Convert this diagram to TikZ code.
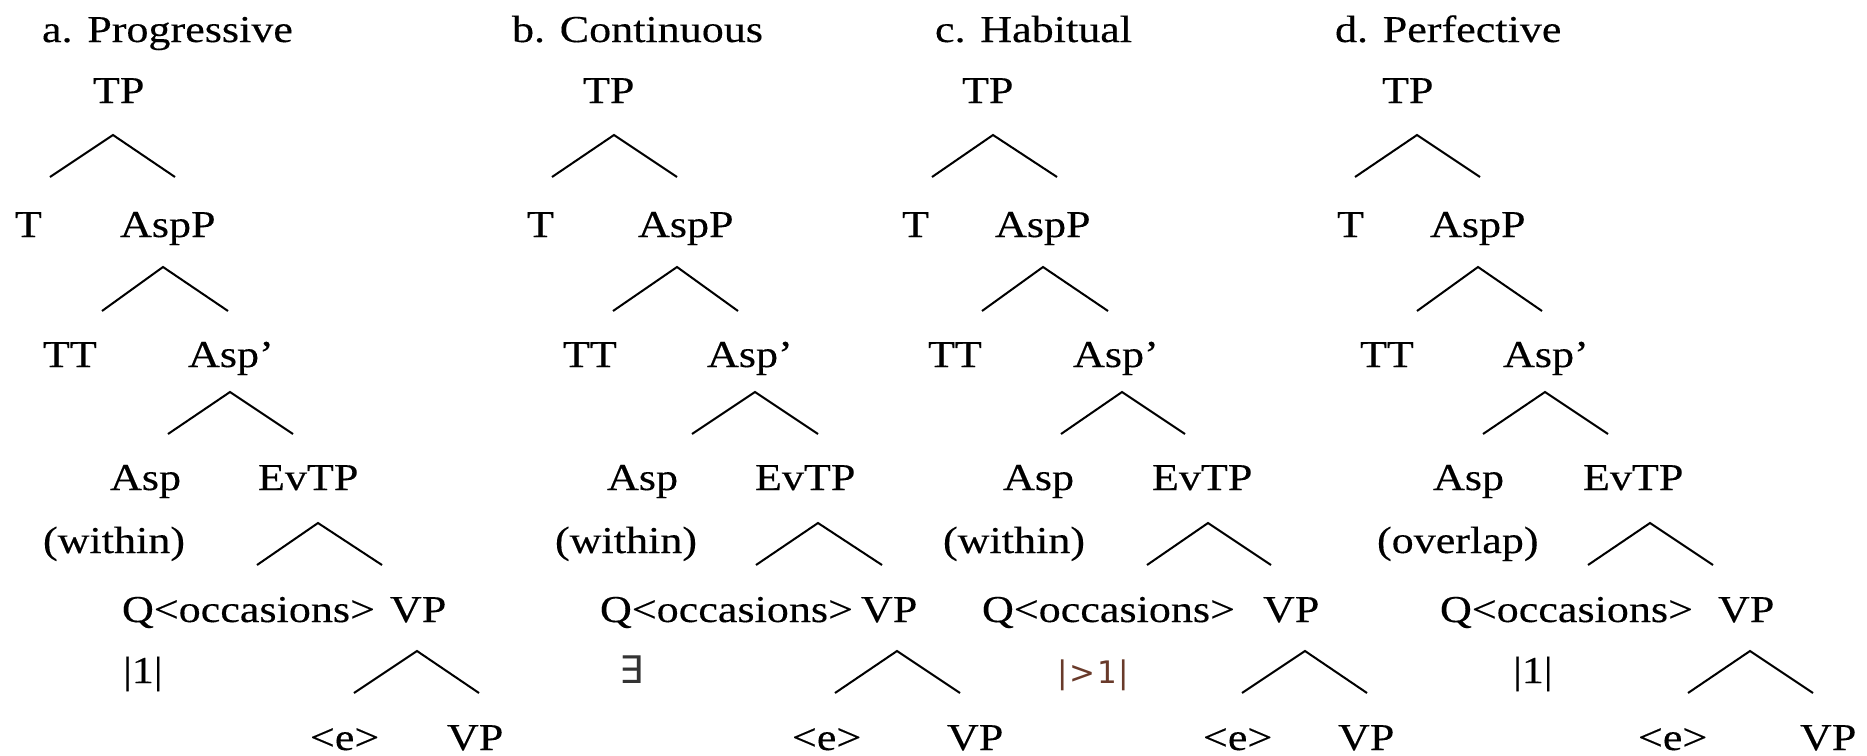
\documentclass[tikz,border=0pt]{standalone}
\usepackage{fontspec}
\setmainfont{Liberation Serif}[FakeStretch=1.16,FakeBold=0.3]
\newfontfamily\symfam{DejaVu Sans}
\definecolor{numbrown}{RGB}{105,58,42}
\newcommand{\branchpair}[6]{%
  \coordinate (#1) at (#2,#3);
  \coordinate (#1-l) at (#4,#6);
  \coordinate (#1-r) at (#5,#6);
  \draw[branch] (#1-l) -- (#1) -- (#1-r);}
\tikzset{
  lbl/.style={anchor=base west, inner sep=0pt, outer sep=0pt, font=\fontsize{38}{44}\selectfont, text=black},
  symlbl/.style={anchor=base west, inner sep=0pt, outer sep=0pt, font=\symfam\fontsize{38}{44}\selectfont, text=black!80},
  cntlbl/.style={anchor=base west, inner sep=0pt, outer sep=0pt, font=\symfam\fontsize{31}{36}\selectfont, text=numbrown},
  branch/.style={draw=black, line width=2pt, line join=miter}
}
\begin{document}
\begin{tikzpicture}[x=1pt,y=-1pt]
\fill[white] (0,0) rectangle (1867,755);
\useasboundingbox (0,0) rectangle (1867,755);

% ---------- a. Progressive ----------
\node[lbl] (a-title) at (42,42) {a. Progressive};
\node[lbl] (a-TP) at (93,103) {TP};
\node[lbl] (a-T) at (15,237) {T};
\node[lbl] (a-AspP) at (120,237) {AspP};
\node[lbl] (a-TT) at (43,367) {TT};
\node[lbl] (a-Aspbar) at (188,367) {Asp’};
\node[lbl] (a-Asp) at (110,490) {Asp};
\node[lbl] (a-EvTP) at (258,490) {EvTP};
\node[lbl] (a-within) at (43,553) {(within)};
\node[lbl] (a-Q) at (122,622) {Q<occasions>};
\node[lbl] (a-VP) at (390,622) {VP};
\node[lbl] (a-card) at (123,683) {|1|};
\node[lbl] (a-e) at (310,750) {<e>};
\node[lbl] (a-VP2) at (447,750) {VP};
\branchpair{a-TPb}{113}{135}{50}{175}{177}
\branchpair{a-AspPb}{163}{267}{102}{228}{311}
\branchpair{a-Aspbarb}{230}{392}{168}{293}{434}
\branchpair{a-EvTPb}{318}{523}{257}{382}{565}
\branchpair{a-VPb}{417}{651}{354}{479}{693}

% ---------- b. Continuous ----------
\node[lbl] (b-title) at (512,42) {b. Continuous};
\node[lbl] (b-TP) at (583,103) {TP};
\node[lbl] (b-T) at (527,237) {T};
\node[lbl] (b-AspP) at (638,237) {AspP};
\node[lbl] (b-TT) at (563,367) {TT};
\node[lbl] (b-Aspbar) at (707,367) {Asp’};
\node[lbl] (b-Asp) at (607,490) {Asp};
\node[lbl] (b-EvTP) at (755,490) {EvTP};
\node[lbl] (b-within) at (555,553) {(within)};
\node[lbl] (b-Q) at (600,622) {Q<occasions>};
\node[lbl] (b-VP) at (861,622) {VP};
\node[symlbl] (b-card) at (619,683) {∃};
\node[lbl] (b-e) at (792,750) {<e>};
\node[lbl] (b-VP2) at (947,750) {VP};
\branchpair{b-TPb}{614}{135}{552}{677}{177}
\branchpair{b-AspPb}{677}{267}{613}{738}{311}
\branchpair{b-Aspbarb}{755}{392}{692}{818}{434}
\branchpair{b-EvTPb}{818}{523}{756}{882}{565}
\branchpair{b-VPb}{897}{651}{835}{960}{693}

% ---------- c. Habitual ----------
\node[lbl] (c-title) at (935,42) {c. Habitual};
\node[lbl] (c-TP) at (962,103) {TP};
\node[lbl] (c-T) at (902,237) {T};
\node[lbl] (c-AspP) at (995,237) {AspP};
\node[lbl] (c-TT) at (928,367) {TT};
\node[lbl] (c-Aspbar) at (1073,367) {Asp’};
\node[lbl] (c-Asp) at (1003,490) {Asp};
\node[lbl] (c-EvTP) at (1152,490) {EvTP};
\node[lbl] (c-within) at (943,553) {(within)};
\node[lbl] (c-Q) at (982,622) {Q<occasions>};
\node[lbl] (c-VP) at (1263,622) {VP};
\node[cntlbl] (c-card) at (1057,683) {|\kern2pt>\kern2pt1\kern1pt|};
\node[lbl] (c-e) at (1203,750) {<e>};
\node[lbl] (c-VP2) at (1338,750) {VP};
\branchpair{c-TPb}{993}{135}{932}{1057}{177}
\branchpair{c-AspPb}{1043}{267}{982}{1108}{311}
\branchpair{c-Aspbarb}{1122}{392}{1061}{1185}{434}
\branchpair{c-EvTPb}{1208}{523}{1147}{1271}{565}
\branchpair{c-VPb}{1305}{651}{1242}{1367}{693}

% ---------- d. Perfective ----------
\node[lbl] (d-title) at (1335,42) {d. Perfective};
\node[lbl] (d-TP) at (1382,103) {TP};
\node[lbl] (d-T) at (1337,237) {T};
\node[lbl] (d-AspP) at (1430,237) {AspP};
\node[lbl] (d-TT) at (1360,367) {TT};
\node[lbl] (d-Aspbar) at (1503,367) {Asp’};
\node[lbl] (d-Asp) at (1433,490) {Asp};
\node[lbl] (d-EvTP) at (1583,490) {EvTP};
\node[lbl] (d-overlap) at (1377,553) {(overlap)};
\node[lbl] (d-Q) at (1440,622) {Q<occasions>};
\node[lbl] (d-VP) at (1718,622) {VP};
\node[lbl] (d-card) at (1513,683) {|1|};
\node[lbl] (d-e) at (1638,750) {<e>};
\node[lbl] (d-VP2) at (1800,750) {VP};
\branchpair{d-TPb}{1417}{135}{1355}{1480}{177}
\branchpair{d-AspPb}{1478}{267}{1417}{1542}{311}
\branchpair{d-Aspbarb}{1545}{392}{1483}{1608}{434}
\branchpair{d-EvTPb}{1650}{523}{1588}{1713}{565}
\branchpair{d-VPb}{1750}{651}{1688}{1813}{693}
\end{tikzpicture}
\end{document}
